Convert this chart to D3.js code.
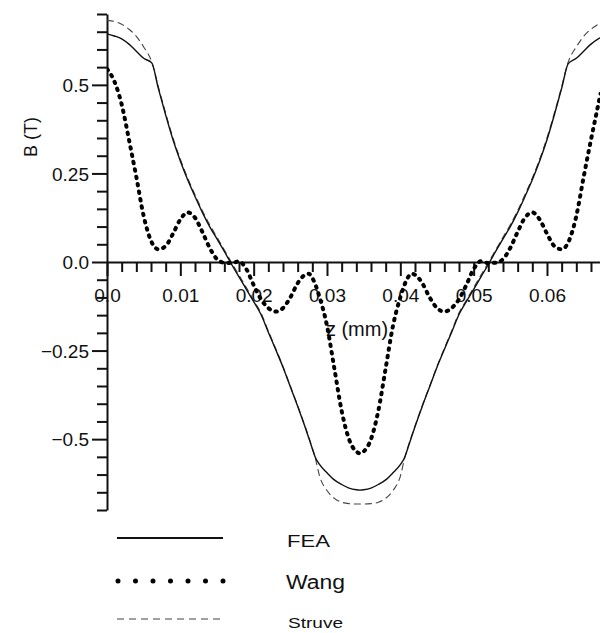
<!DOCTYPE html>
<html>
<head>
<meta charset="utf-8">
<script src="https://cdn.jsdelivr.net/npm/d3@7/dist/d3.min.js"></script>
<style>
  html, body { margin: 0; padding: 0; background: #fff; }
  svg { display: block; }
  text { font-family: "Liberation Sans", Arial, sans-serif; fill: #111; }
</style>
</head>
<body>
<svg id="chart" width="600" height="633"></svg>
<script>
// ---- data ----
const feaZ = [0,0.001,0.002,0.003,0.004,0.005,0.0061,0.007,0.008,0.009,0.010,0.011,0.012,0.013,0.014,0.015,0.016,0.017,0.018,0.019,0.020,0.021,0.022,0.023,0.024,0.025,0.026,0.027,0.028,0.0284,0.029,0.030,0.031,0.032,0.033,0.034,0.0345,0.035,0.036,0.037,0.038,0.039,0.040,0.0406,0.041,0.042,0.043,0.044,0.045,0.046,0.047,0.048,0.049,0.050,0.051,0.052,0.053,0.054,0.055,0.056,0.057,0.058,0.059,0.060,0.061,0.062,0.0629,0.064,0.065,0.066,0.067,0.0673];
const feaB = [0.644,0.638,0.63,0.615,0.595,0.575,0.562,0.49,0.415,0.345,0.285,0.232,0.185,0.14,0.10,0.065,0.03,-0.007,-0.042,-0.077,-0.112,-0.148,-0.198,-0.247,-0.297,-0.352,-0.407,-0.465,-0.527,-0.551,-0.572,-0.595,-0.615,-0.628,-0.638,-0.643,-0.644,-0.643,-0.638,-0.628,-0.615,-0.595,-0.572,-0.551,-0.527,-0.465,-0.407,-0.352,-0.297,-0.247,-0.198,-0.148,-0.112,-0.077,-0.042,-0.007,0.03,0.065,0.10,0.14,0.185,0.232,0.285,0.345,0.415,0.49,0.56,0.575,0.595,0.615,0.63,0.633];

const wangZ = [0,0.001,0.002,0.003,0.004,0.005,0.006,0.007,0.008,0.009,0.010,0.011,0.012,0.013,0.014,0.015,0.016,0.017,0.018,0.019,0.020,0.021,0.022,0.023,0.024,0.025,0.026,0.027,0.0275,0.028,0.029,0.030,0.031,0.032,0.033,0.034,0.0345,0.035,0.036,0.037,0.038,0.039,0.040,0.041,0.0415,0.042,0.043,0.044,0.045,0.046,0.047,0.048,0.049,0.050,0.051,0.052,0.053,0.054,0.055,0.056,0.057,0.058,0.059,0.060,0.061,0.062,0.063,0.064,0.065,0.066,0.067,0.0673];
const wangB = [0.545,0.51,0.445,0.345,0.24,0.13,0.06,0.036,0.045,0.08,0.12,0.14,0.125,0.085,0.04,0.008,-0.002,-0.003,0.002,-0.02,-0.065,-0.105,-0.13,-0.14,-0.13,-0.10,-0.06,-0.036,-0.033,-0.045,-0.10,-0.18,-0.30,-0.42,-0.50,-0.535,-0.54,-0.535,-0.50,-0.42,-0.30,-0.18,-0.10,-0.045,-0.033,-0.036,-0.06,-0.10,-0.13,-0.14,-0.13,-0.105,-0.065,-0.02,0.002,-0.003,-0.002,0.008,0.04,0.085,0.125,0.14,0.12,0.08,0.045,0.036,0.06,0.13,0.24,0.345,0.445,0.475];

const struveZ = [0,0.001,0.002,0.003,0.004,0.005,0.0061,0.007,0.008,0.009,0.010,0.011,0.012,0.013,0.014,0.015,0.016,0.017,0.018,0.019,0.020,0.021,0.022,0.023,0.024,0.025,0.026,0.027,0.028,0.0284,0.029,0.030,0.031,0.032,0.033,0.034,0.0345,0.035,0.036,0.037,0.038,0.039,0.040,0.0406,0.041,0.042,0.043,0.044,0.045,0.046,0.047,0.048,0.049,0.050,0.051,0.052,0.053,0.054,0.055,0.056,0.057,0.058,0.059,0.060,0.061,0.062,0.0629,0.064,0.065,0.066,0.067,0.0673];
const struveB = [0.682,0.679,0.671,0.657,0.637,0.607,0.565,0.495,0.42,0.35,0.29,0.237,0.19,0.145,0.105,0.07,0.034,-0.002,-0.037,-0.072,-0.108,-0.144,-0.195,-0.244,-0.295,-0.35,-0.405,-0.463,-0.525,-0.553,-0.605,-0.645,-0.667,-0.678,-0.682,-0.683,-0.683,-0.683,-0.682,-0.678,-0.667,-0.645,-0.605,-0.553,-0.525,-0.463,-0.405,-0.35,-0.295,-0.244,-0.195,-0.144,-0.108,-0.072,-0.037,-0.002,0.034,0.07,0.105,0.145,0.19,0.237,0.29,0.35,0.42,0.495,0.565,0.607,0.637,0.657,0.671,0.675];

const xMajorTicks = [0, 0.01, 0.02, 0.03, 0.04, 0.05, 0.06];
const xTickLabels = ["0.0", "0.01", "0.02", "0.03", "0.04", "0.05", "0.06"];
const xMinorTicks = [0.002,0.004,0.006,0.008,0.012,0.014,0.016,0.018,0.022,0.024,0.026,0.028,0.032,0.034,0.036,0.038,0.042,0.044,0.046,0.048,0.052,0.054,0.056,0.058,0.062,0.064,0.066];
const yMajorTicks = [0.5, 0.25, 0, -0.25, -0.5];
const yTickLabels = ["0.5", "0.25", "0.0", "\u22120.25", "\u22120.5"];
const yMinorTicks = [0.7,0.65,0.6,0.55,0.45,0.4,0.35,0.3,0.2,0.15,0.1,0.05,-0.05,-0.1,-0.15,-0.2,-0.3,-0.35,-0.4,-0.45,-0.55,-0.6,-0.65,-0.7];
const seriesNames = ["FEA", "Wang", "Struve"];
const xTitle = "z (mm)";
const yTitle = "B (T)";

// ---- scales ----
const svg = d3.select("#chart");
const x = d3.scaleLinear().domain([0, 0.06723]).range([107, 600]);
const y = d3.scaleLinear().domain([-0.7, 0.7]).range([510, 14]);
const y0 = y(0);

// ---- axes ----
const xMinorAxis = d3.axisBottom(x).tickValues(xMinorTicks).tickSize(10).tickSizeOuter(0).tickFormat("");
const xMajorAxis = d3.axisBottom(x).tickValues(xMajorTicks).tickSize(14).tickSizeOuter(0)
  .tickFormat((d, i) => xTickLabels[i]);
const yMinorAxis = d3.axisLeft(y).tickValues(yMinorTicks).tickSize(10).tickSizeOuter(0).tickFormat("");
const yMajorAxis = d3.axisLeft(y).tickValues(yMajorTicks).tickSize(15).tickSizeOuter(0)
  .tickFormat((d, i) => yTickLabels[i]);

function styleAxis(g) {
  g.select(".domain").attr("stroke", "#111").attr("stroke-width", 2);
  g.selectAll(".tick line").attr("stroke", "#111").attr("stroke-width", 2);
  g.selectAll(".tick text").attr("font-size", 19).attr("font-family", "Liberation Sans, Arial, sans-serif").attr("fill", "#222");
}

const gx1 = svg.append("g").attr("transform", `translate(0,${y0})`).call(xMinorAxis).call(styleAxis);
const gx2 = svg.append("g").attr("transform", `translate(0,${y0})`).call(xMajorAxis).call(styleAxis);
gx2.selectAll(".tick text").attr("y", 27).attr("dy", "0.71em");
gx2.select(".domain").remove();

const gy1 = svg.append("g").attr("transform", `translate(${x(0)},0)`).call(yMinorAxis).call(styleAxis);
const gy2 = svg.append("g").attr("transform", `translate(${x(0)},0)`).call(yMajorAxis).call(styleAxis);
gy2.selectAll(".tick text").attr("x", -18).attr("dy", "0.36em");
gy2.select(".domain").remove();

// ---- axis titles ----
svg.append("text").attr("x", 357).attr("y", 336).attr("text-anchor", "middle")
  .attr("font-size", 20).text(xTitle);
svg.append("text").attr("transform", "translate(37,137) rotate(-90)").attr("text-anchor", "middle")
  .attr("font-size", 18).text(yTitle);

// ---- lines ----
const line = d3.line().x(d => x(d[0])).y(d => y(d[1])).curve(d3.curveMonotoneX);
const fea = feaZ.map((z, i) => [z, feaB[i]]);
const wang = wangZ.map((z, i) => [z, wangB[i]]);
const struve = struveZ.map((z, i) => [z, struveB[i]]);

svg.append("defs").append("clipPath").attr("id", "clip")
  .append("rect").attr("x", 107).attr("y", 0).attr("width", 493).attr("height", 520);
const plot = svg.append("g").attr("clip-path", "url(#clip)");

plot.append("path").datum(struve).attr("d", line).attr("fill", "none")
  .attr("stroke", "#444").attr("stroke-width", 1.1).attr("stroke-dasharray", "7 4");
plot.append("path").datum(fea).attr("d", line).attr("fill", "none")
  .attr("stroke", "#111").attr("stroke-width", 1.4);
plot.append("path").datum(wang).attr("d", line).attr("fill", "none")
  .attr("stroke", "#000").attr("stroke-width", 4).attr("stroke-linecap", "round")
  .attr("stroke-dasharray", "1.5 6");

// ---- legend ----
const legend = svg.append("g");
legend.append("line").attr("x1", 117).attr("x2", 223).attr("y1", 538).attr("y2", 538)
  .attr("stroke", "#111").attr("stroke-width", 2);
legend.append("line").attr("x1", 118).attr("x2", 223.5).attr("y1", 581).attr("y2", 581)
  .attr("stroke", "#000").attr("stroke-width", 5).attr("stroke-linecap", "round")
  .attr("stroke-dasharray", "0 17.5");
legend.append("line").attr("x1", 117).attr("x2", 223).attr("y1", 619).attr("y2", 619)
  .attr("stroke", "#444").attr("stroke-width", 1.2).attr("stroke-dasharray", "7 5");

legend.append("text").attr("x", 287).attr("y", 547).attr("font-size", 17)
  .attr("textLength", 43).attr("lengthAdjust", "spacingAndGlyphs").text(seriesNames[0]);
legend.append("text").attr("x", 286).attr("y", 589).attr("font-size", 20)
  .attr("font-family", "DejaVu Sans, sans-serif")
  .attr("textLength", 59).attr("lengthAdjust", "spacingAndGlyphs").text(seriesNames[1]);
legend.append("text").attr("x", 288).attr("y", 628).attr("font-size", 15)
  .attr("textLength", 55).attr("lengthAdjust", "spacingAndGlyphs").text(seriesNames[2]);
</script>
</body>
</html>
